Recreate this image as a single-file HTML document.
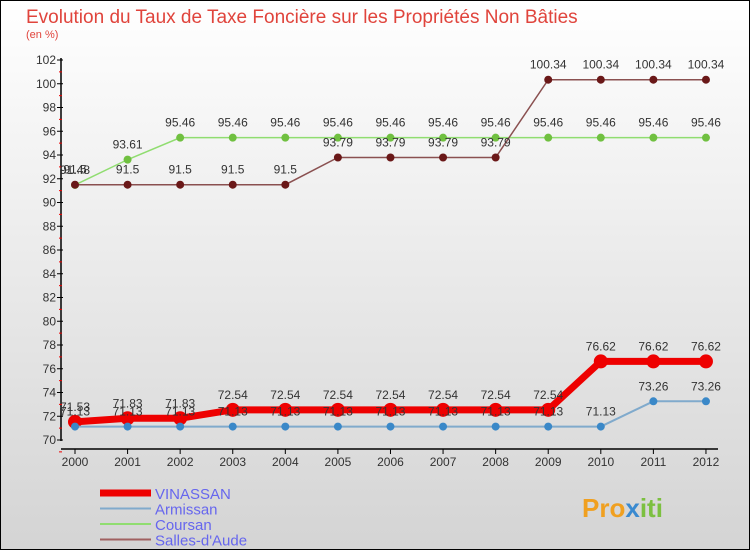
<!DOCTYPE html>
<html><head><meta charset="utf-8"><style>
html,body{margin:0;padding:0}
body{width:750px;height:550px;overflow:hidden;font-family:"Liberation Sans",sans-serif}
svg text{font-family:"Liberation Sans",sans-serif}
</style></head><body>
<svg id="c" width="750" height="550" xmlns="http://www.w3.org/2000/svg">
<defs><linearGradient id="bg" x1="0" y1="0" x2="0" y2="1"><stop offset="0" stop-color="#ffffff"/><stop offset="1" stop-color="#d4d4d4"/></linearGradient></defs>
<rect x="0.5" y="0.5" width="749" height="549" fill="url(#bg)" stroke="#000"/>
<text x="26" y="23" font-size="19" fill="#e0443c">Evolution du Taux de Taxe Foncière sur les Propriétés Non Bâties</text>
<text x="26" y="38" font-size="11" fill="#e0443c">(en %)</text>
<g id="axes"></g><g id="series"></g><g id="legend"></g>
<g>
<text x="582" y="517" font-size="26" font-weight="bold" fill="#f0a020">Pro<tspan fill="#3a8ad0">x</tspan><tspan fill="#7cc040">iti</tspan></text>
</g>
</svg>
<script>
const years=[2000,2001,2002,2003,2004,2005,2006,2007,2008,2009,2010,2011,2012];
const yTicks=[70,72,74,76,78,80,82,84,86,88,90,92,94,96,98,100,102];
const vinassan=[71.53,71.83,71.83,72.54,72.54,72.54,72.54,72.54,72.54,72.54,76.62,76.62,76.62];
const armissan=[71.13,71.13,71.13,71.13,71.13,71.13,71.13,71.13,71.13,71.13,71.13,73.26,73.26];
const coursan=[91.48,93.61,95.46,95.46,95.46,95.46,95.46,95.46,95.46,95.46,95.46,95.46,95.46];
const salles=[91.5,91.5,91.5,91.5,91.5,93.79,93.79,93.79,93.79,100.34,100.34,100.34,100.34];
const NS="http://www.w3.org/2000/svg";
const X0=75,XS=52.58,Y0=440,YS=11.875;
const xs=i=>X0+i*XS, ys=v=>Y0-(v-70)*YS;
function mk(p,t,a){const e=document.createElementNS(NS,t);for(const k in a)e.setAttribute(k,a[k]);p.appendChild(e);return e;}
const axes=document.getElementById('axes');
let yl=mk(axes,'line',{x1:61,y1:58,x2:61,y2:441,stroke:'#000','stroke-width':1.5});


yTicks.forEach(v=>{const y=ys(v);
mk(axes,'line',{x1:57,y1:y,x2:63,y2:y,stroke:'#000'});
mk(axes,'line',{x1:59,y1:y+YS,x2:62,y2:y+YS,stroke:'#e00'});
const t=mk(axes,'text',{x:56,y:y+4,'font-size':12,'text-anchor':'end',fill:'#333'});t.textContent=v;

});
let xl=mk(axes,'line',{x1:61,y1:449,x2:718,y2:449,stroke:'#000','stroke-width':1.5});


years.forEach((yr,i)=>{const x=xs(i);mk(axes,'line',{x1:x,y1:449,x2:x,y2:454,stroke:'#000'});
const t=mk(axes,'text',{x:x,y:466,'font-size':12,'text-anchor':'middle',fill:'#333'});t.textContent=yr;

});
const S=document.getElementById('series');
function series(name,vals,color,w,r,fill){
const g=mk(S,'g',{});


mk(g,'polyline',{points:vals.map((v,i)=>xs(i)+','+ys(v)).join(' '),fill:'none',stroke:color,'stroke-width':w});
vals.forEach((v,i)=>{const c=mk(g,'circle',{cx:xs(i),cy:ys(v),r:r,fill:fill});


const t=mk(g,'text',{x:xs(i),y:ys(v)-11,'font-size':12,'text-anchor':'middle',fill:'#333'});t.textContent=v;});
}
series('vinassan',vinassan,'#ee0000',7,7,'#ee0000');
series('armissan',armissan,'#80aacc',2,4,'#3a88c8');
series('coursan',coursan,'#90dd70',1.5,4,'#70c040');
series('salles',salles,'#8a5050',1.5,4,'#6a1818');
const L=document.getElementById('legend');
[['VINASSAN','#ee0000',7],['Armissan','#80aacc',2],['Coursan','#90dd70',2],['Salles-d\'Aude','#a06060',2]].forEach((d,i)=>{
const y=493+i*15.5;const g=mk(L,'g',{});


mk(g,'line',{x1:100,y1:y,x2:151,y2:y,stroke:d[1],'stroke-width':d[2]});
const t=mk(g,'text',{x:155,y:y+6,'font-size':15,fill:'#6666ee'});t.textContent=d[0];});
</script>
</body></html>
